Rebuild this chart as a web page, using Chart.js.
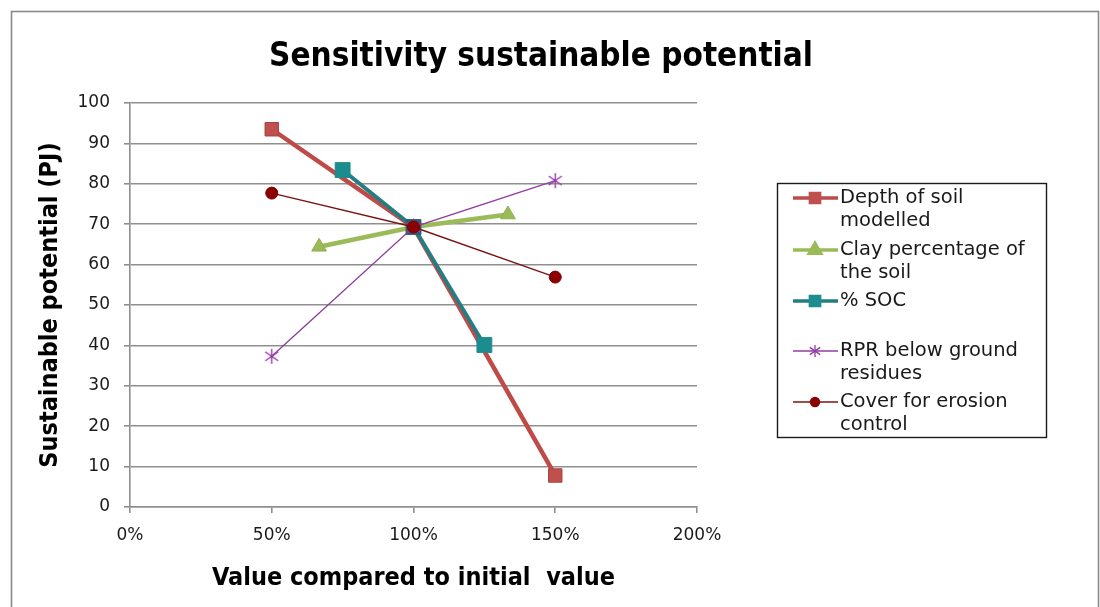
<!DOCTYPE html>
<html>
<head>
<meta charset="utf-8">
<script src="https://cdn.jsdelivr.net/npm/chart.js@4.4.1/dist/chart.umd.min.js"></script>
<style>
  html, body { margin: 0; padding: 0; background: #ffffff; }
  #wrap { position: relative; width: 1100px; height: 607px; }
</style>
</head>
<body>
<div id="wrap"><canvas id="chart" width="1100" height="607"></canvas></div>
<script>
// Sensitivity of the sustainable potential (PJ) to each input parameter,
// expressed as a share of the parameter's initial value.
const chartTitle = 'Sensitivity sustainable potential';
const xAxisTitle = 'Value compared to initial  value';
const yAxisTitle = 'Sustainable potential (PJ)';

const seriesNames = [
  'Depth of soil modelled',
  'Clay percentage of the soil',
  '% SOC',
  'RPR below ground residues',
  'Cover for erosion control'
];
const legendLines = [
  ['Depth of soil', 'modelled'],
  ['Clay percentage of', 'the soil'],
  ['% SOC'],
  ['RPR below ground', 'residues'],
  ['Cover for erosion', 'control']
];

// x = percent of initial value, y = sustainable potential (PJ)
const depthX = [50, 100, 150];
const depthY = [93.5, 69.3, 7.8];
const clayX = [66.7, 100, 133.3];
const clayY = [64.4, 69.3, 72.4];
const socX = [75, 100, 125];
const socY = [83.4, 69.3, 40.1];
const rprX = [50, 100, 150];
const rprY = [37.3, 69.3, 80.8];
const coverX = [50, 100, 150];
const coverY = [77.7, 69.3, 56.9];

const xTickValues = [0, 50, 100, 150, 200];
const yTickValues = [0, 10, 20, 30, 40, 50, 60, 70, 80, 90, 100];

const toPoints = (xs, ys) => xs.map((x, i) => ({ x: x, y: ys[i] }));

// Asterisk marker (x plus a vertical stroke)
function makeAsterisk(size, color, width) {
  const c = document.createElement('canvas');
  c.width = size; c.height = size;
  const g = c.getContext('2d');
  const m = size / 2, r = size / 2 - 1;
  g.strokeStyle = color; g.lineWidth = width; g.lineCap = 'butt';
  g.beginPath();
  g.moveTo(m, m - r); g.lineTo(m, m + r);
  const d = r * 0.87;
  g.moveTo(m - d, m - r * 0.6); g.lineTo(m + d, m + r * 0.6);
  g.moveTo(m - d, m + r * 0.6); g.lineTo(m + d, m - r * 0.6);
  g.stroke();
  return c;
}
const asterisk = makeAsterisk(17, '#953AA6', 1.4);
const asteriskSmall = makeAsterisk(14, '#953AA6', 1.3);

const gridColor = '#8f8f8f';
const textColor = '#1a1a1a';
const boldFamily = '"DejaVu Sans Condensed", "DejaVu Sans", sans-serif';

const frameAndTitle = {
  id: 'frameAndTitle',
  beforeDraw(chart) {
    const ctx = chart.ctx;
    ctx.save();
    ctx.fillStyle = '#ffffff';
    ctx.fillRect(0, 0, chart.width, chart.height);
    ctx.strokeStyle = '#8a8a8a';
    ctx.lineWidth = 1.6;
    ctx.strokeRect(11.5, 11.5, 1087, 620);
    ctx.restore();
  },
  afterDraw(chart) {
    const ctx = chart.ctx;
    ctx.save();
    ctx.fillStyle = '#000000';
    ctx.font = 'bold 33px ' + boldFamily;
    ctx.textAlign = 'center';
    ctx.textBaseline = 'alphabetic';
    ctx.fillText(chartTitle, 541, 66);
    ctx.restore();
  }
};

// Boxed legend with wrapped entries, drawn from each dataset's own styles
const boxedLegend = {
  id: 'boxedLegend',
  afterDraw(chart) {
    const ctx = chart.ctx;
    const box = { x0: 777, y0: 183, x1: 1046, y1: 437 };
    const firstLineY = [198, 250, 301, 351, 402];
    const lineGap = 23;
    const markerSize = [6.5, 6.5, 6.5, 0, 4.5];
    ctx.save();
    ctx.strokeStyle = '#1a1a1a';
    ctx.lineWidth = 1.4;
    ctx.strokeRect(box.x0 + 0.5, box.y0 + 0.5, box.x1 - box.x0, box.y1 - box.y0);
    chart.data.datasets.forEach((ds, i) => {
      const y = firstLineY[i];
      ctx.strokeStyle = ds.borderColor;
      ctx.lineWidth = Math.min(ds.borderWidth, 3.5);
      ctx.beginPath();
      ctx.moveTo(793, y);
      ctx.lineTo(838, y);
      ctx.stroke();
      const style = ds.pointStyle === asterisk ? asteriskSmall : ds.pointStyle;
      ctx.fillStyle = ds.legendMarkerColor;
      ctx.strokeStyle = ds.legendMarkerColor;
      Chart.helpers.drawPoint(ctx, {
        pointStyle: style, radius: markerSize[i], borderWidth: 1, rotation: 0
      }, 815, y);
      ctx.fillStyle = textColor;
      ctx.font = '19.5px "DejaVu Sans", sans-serif';
      ctx.textAlign = 'left';
      ctx.textBaseline = 'middle';
      legendLines[i].forEach((t, k) => ctx.fillText(t, 840, y + k * lineGap));
    });
    ctx.restore();
  }
};

const datasets = [
  {
    label: seriesNames[0], data: toPoints(depthX, depthY),
    borderColor: '#BE4B48', borderWidth: 4.5,
    pointStyle: 'rect', pointRadius: 9.5,
    pointBackgroundColor: '#C0504D', pointBorderColor: '#A8403D', pointBorderWidth: 1,
    legendMarkerColor: '#C0504D', order: 5
  },
  {
    label: seriesNames[1], data: toPoints(clayX, clayY),
    borderColor: '#9BBB59', borderWidth: 4.5,
    pointStyle: 'triangle', pointRadius: 8.5,
    pointBackgroundColor: '#9BBB59', pointBorderColor: '#8FAF4F', pointBorderWidth: 1,
    legendMarkerColor: '#9BBB59', order: 4
  },
  {
    label: seriesNames[2], data: toPoints(socX, socY),
    borderColor: '#257D84', borderWidth: 4,
    pointStyle: 'rect', pointRadius: 10.5,
    pointBackgroundColor: (c) => (c.raw && c.raw.x === 100 ? '#2F5B78' : '#1D8C8E'),
    pointBorderColor: (c) => (c.raw && c.raw.x === 100 ? '#2F5B78' : '#1D8C8E'),
    pointBorderWidth: 1,
    legendMarkerColor: '#1D8C8E', order: 3
  },
  {
    label: seriesNames[3], data: toPoints(rprX, rprY),
    borderColor: '#8E3F9C', borderWidth: 1.4,
    pointStyle: asterisk, pointRadius: 8,
    legendMarkerColor: '#953AA6', order: 2
  },
  {
    label: seriesNames[4], data: toPoints(coverX, coverY),
    borderColor: '#7A1414', borderWidth: 1.4,
    pointStyle: 'circle', pointRadius: 6,
    pointBackgroundColor: '#8B0000', pointBorderColor: '#7A0000', pointBorderWidth: 1,
    legendMarkerColor: '#8B0000', order: 1
  }
];

new Chart(document.getElementById('chart'), {
  type: 'line',
  data: { datasets: datasets },
  plugins: [frameAndTitle, boxedLegend],
  options: {
    responsive: false,
    animation: false,
    events: [],
    layout: { padding: { left: 12, top: 103, right: 403, bottom: 0 } },
    elements: { line: { tension: 0 } },
    plugins: {
      legend: { display: false },
      title: { display: false },
      tooltip: { enabled: false }
    },
    scales: {
      x: {
        type: 'linear',
        min: 0, max: 200,
        afterFit(scale) { scale.height = 100; },
        afterBuildTicks(scale) { scale.ticks = xTickValues.map(v => ({ value: v })); },
        ticks: {
          callback: (v) => v + '%',
          color: textColor,
          font: { family: 'DejaVu Sans', size: 17 },
          padding: 12,
          maxRotation: 0
        },
        grid: {
          drawOnChartArea: false, drawTicks: true, tickLength: 6,
          color: gridColor, lineWidth: 1.6
        },
        border: { display: true, color: gridColor, width: 1.6 },
        title: {
          display: true, text: xAxisTitle, color: '#000000',
          font: { family: boldFamily, size: 25, weight: 'bold' },
          padding: { top: 0, bottom: 14 }
        }
      },
      y: {
        type: 'linear',
        min: 0, max: 100,
        afterFit(scale) { scale.width = 118; },
        afterBuildTicks(scale) { scale.ticks = yTickValues.map(v => ({ value: v })); },
        ticks: {
          color: textColor,
          font: { family: 'DejaVu Sans', size: 17 },
          padding: 14
        },
        grid: {
          drawOnChartArea: true, drawTicks: true, tickLength: 6,
          color: gridColor, lineWidth: 1.6
        },
        border: { display: true, color: gridColor, width: 1.6 },
        title: {
          display: true, text: yAxisTitle, color: '#000000',
          font: { family: boldFamily, size: 25, weight: 'bold' },
          padding: { top: 23, bottom: 0 }
        }
      }
    }
  }
});
</script>
</body>
</html>
